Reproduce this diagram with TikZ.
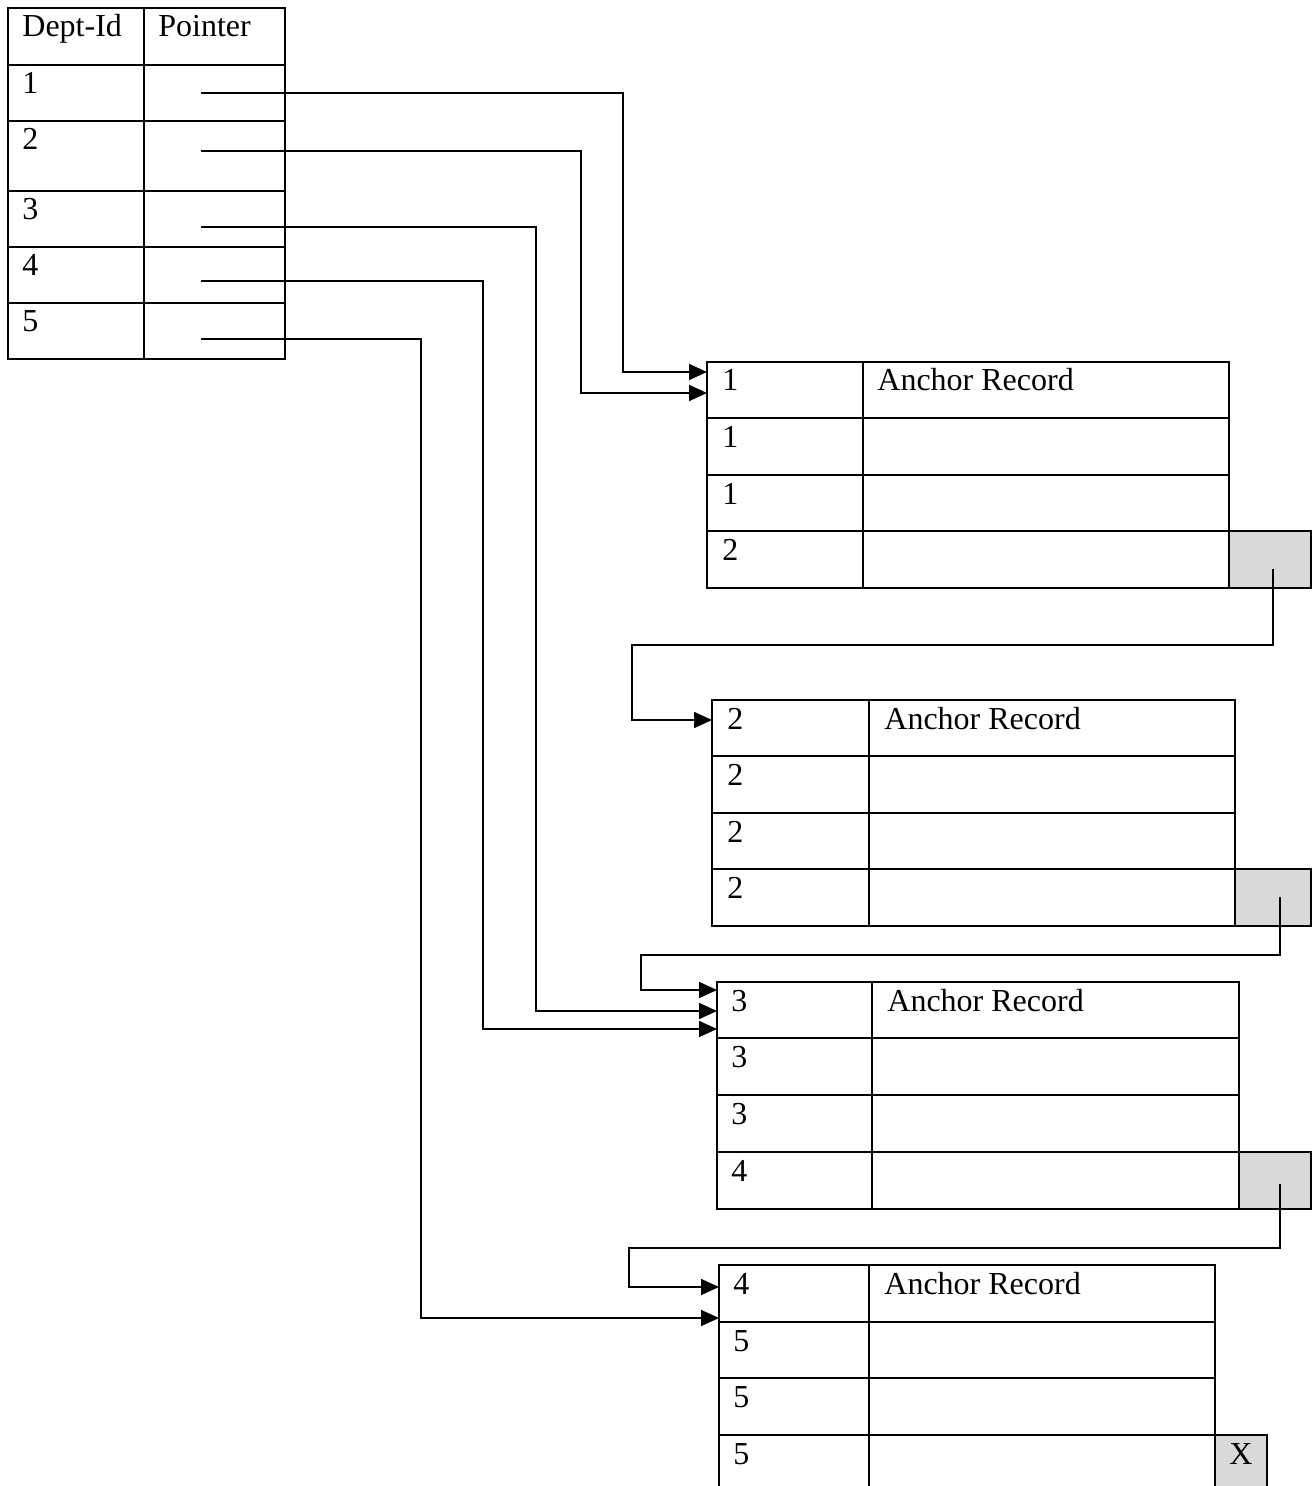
\documentclass[tikz,border=0pt]{standalone}
\usepackage{fontspec}
\setmainfont{Liberation Serif}
\usetikzlibrary{arrows.meta}

\definecolor{boxgray}{RGB}{217,217,217}

\begin{document}
\begin{tikzpicture}[x=0.5pt,y=-0.5pt,font=\fontsize{16}{19}\selectfont,
  grid line/.style={line width=1pt},
  link/.style={line width=0.85pt},
  ptr/.style={link,-{Triangle[length=9pt,width=8pt]}},
  txt/.style={anchor=base west,inner sep=0pt}]
  \useasboundingbox (0,0) rectangle (1313,1486);

  % index table
  \draw[grid line] (8,8) rectangle (285,359);
  \draw[grid line] (144,8) -- (144,359);
  \foreach \y in {65,121,191,247,303}
    \draw[grid line] (8,\y) -- (285,\y);
  \node[txt] (hdid) at (22,37) {Dept-Id};
  \node[txt] (hdptr) at (158,37) {Pointer};
  \foreach \i/\y in {1/94,2/150,3/220,4/276,5/332}
    \node[txt] (dept\i) at (22,\y) {\i};
  \coordinate (p1) at (201,93);
  \coordinate (p2) at (201,151);
  \coordinate (p3) at (201,227);
  \coordinate (p4) at (201,281);
  \coordinate (p5) at (201,339);

  % block 1
  \draw[grid line] (707,362) rectangle (1229,588);
  \draw[grid line] (863,362) -- (863,588);
  \foreach \y in {418,475,531}
    \draw[grid line] (707,\y) -- (1229,\y);
  \foreach \k/\y/\t in {1/391/1,2/447/1,3/504/1,4/560/2}
    \node[txt] (ba\k) at (722,\y) {\t};
  \node[txt] (bahd) at (877,391) {Anchor Record};
  \draw[grid line,fill=boxgray] (1229,531) rectangle (1311,588);
  \coordinate (na) at (1273,569);
  \coordinate (ina1) at (707,372);
  \coordinate (ina2) at (707,393);

  % block 2
  \draw[grid line] (712,700) rectangle (1235,926);
  \draw[grid line] (869,700) -- (869,926);
  \foreach \y in {756,813,869}
    \draw[grid line] (712,\y) -- (1235,\y);
  \foreach \k/\y/\t in {1/729/2,2/785/2,3/842/2,4/898/2}
    \node[txt] (bb\k) at (727,\y) {\t};
  \node[txt] (bbhd) at (884,729) {Anchor Record};
  \draw[grid line,fill=boxgray] (1235,869) rectangle (1311,926);
  \coordinate (nb) at (1280,897);
  \coordinate (inb1) at (712,720);

  % block 3
  \draw[grid line] (717,982) rectangle (1239,1209);
  \draw[grid line] (872,982) -- (872,1209);
  \foreach \y in {1038,1095,1152}
    \draw[grid line] (717,\y) -- (1239,\y);
  \foreach \k/\y/\t in {1/1011/3,2/1067/3,3/1124/3,4/1181/4}
    \node[txt] (bc\k) at (731,\y) {\t};
  \node[txt] (bchd) at (887,1011) {Anchor Record};
  \draw[grid line,fill=boxgray] (1239,1152) rectangle (1311,1209);
  \coordinate (nc) at (1280,1184);
  \coordinate (inc1) at (717,990);
  \coordinate (inc2) at (717,1011);
  \coordinate (inc3) at (717,1029);

  % block 4 (runs off the page)
  \draw[grid line] (719,1500) -- (719,1265) -- (1215,1265) -- (1215,1500);
  \draw[grid line] (869,1265) -- (869,1500);
  \foreach \y in {1322,1378,1435}
    \draw[grid line] (719,\y) -- (1215,\y);
  \foreach \k/\y/\t in {1/1294/4,2/1351/5,3/1407/5,4/1464/5}
    \node[txt] (bd\k) at (733,\y) {\t};
  \node[txt] (bdhd) at (884,1294) {Anchor Record};
  \draw[grid line,fill=boxgray] (1215,1500) -- (1215,1435) -- (1267,1435) -- (1267,1500);
  \node[anchor=base,inner sep=0pt] (nil) at (1241,1464) {X};
  \coordinate (ind1) at (719,1287);
  \coordinate (ind2) at (719,1318);

  % pointers from the index
  \draw[ptr] (p1) -| (623,372) -- (ina1);
  \draw[ptr] (p2) -| (581,393) -- (ina2);
  \draw[ptr] (p3) -| (536,1011) -- (inc2);
  \draw[ptr] (p4) -| (483,1029) -- (inc3);
  \draw[ptr] (p5) -| (421,1318) -- (ind2);

  % chain between blocks
  \draw[ptr] (na) |- (632,645) |- (inb1);
  \draw[ptr] (nb) |- (641,955) |- (inc1);
  \draw[ptr] (nc) |- (629,1248) |- (ind1);
\end{tikzpicture}
\end{document}
